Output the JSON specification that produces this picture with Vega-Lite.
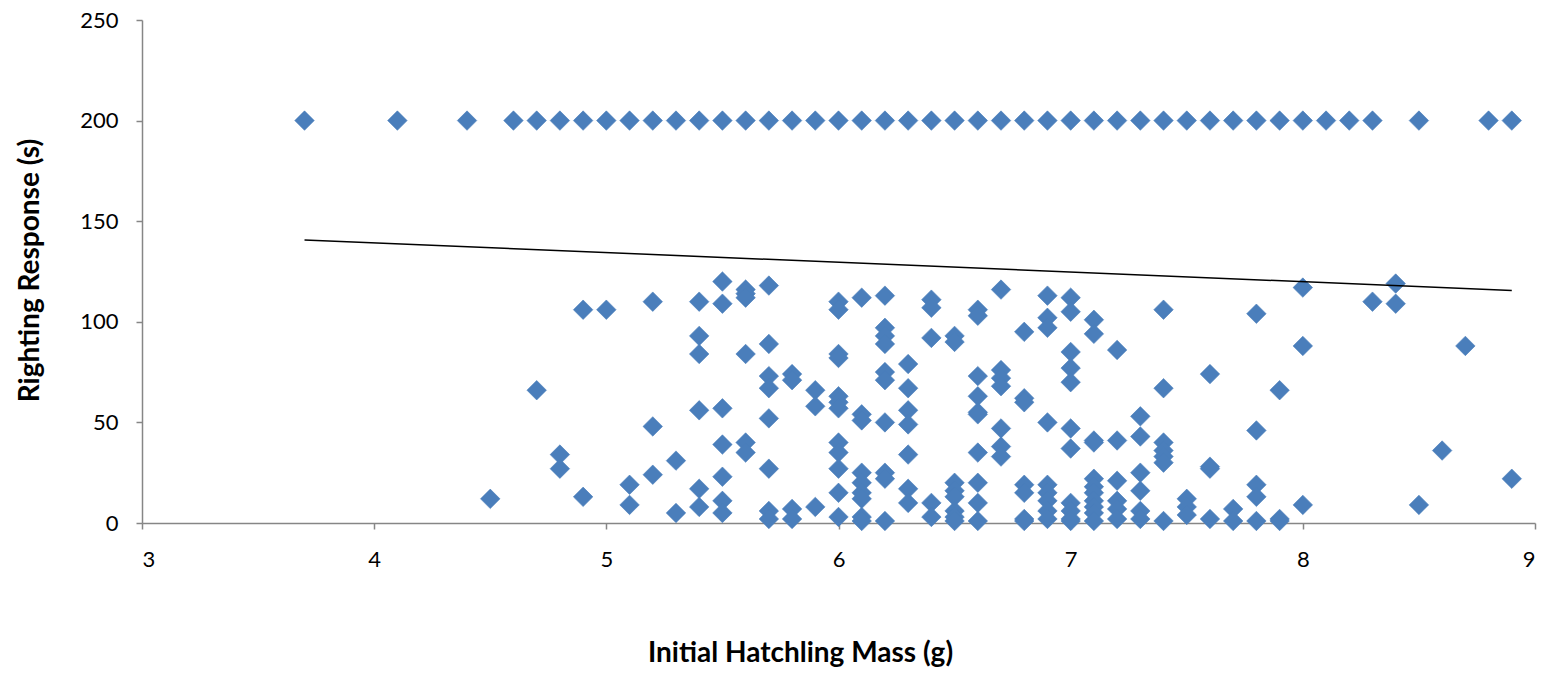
{
  "$schema": "https://vega.github.io/schema/vega-lite/v6.json",
  "autosize": "none",
  "padding": {"left": 142, "top": 20, "right": 14, "bottom": 150},
  "width": 1393,
  "height": 503,
  "background": "white",
  "config": {
    "view": {"stroke": null},
    "axis": {
      "grid": false,
      "domainColor": "#868686",
      "domainWidth": 1.5,
      "tickColor": "#868686",
      "tickWidth": 1.5,
      "tickSize": 6,
      "labelFont": "Lato",
      "labelFontSize": 22,
      "labelColor": "#000000",
      "titleFont": "Lato",
      "titleFontSize": 28,
      "titleFontWeight": "bold",
      "titleColor": "#000000"
    }
  },
  "datasets": {
    "hatchlings": [
      {"mass": 3.7, "righting": 200}, {"mass": 4.1, "righting": 200}, {"mass": 4.4, "righting": 200},
      {"mass": 4.6, "righting": 200}, {"mass": 4.7, "righting": 200}, {"mass": 4.8, "righting": 200},
      {"mass": 4.9, "righting": 200}, {"mass": 5.0, "righting": 200}, {"mass": 5.1, "righting": 200},
      {"mass": 5.2, "righting": 200}, {"mass": 5.3, "righting": 200}, {"mass": 5.4, "righting": 200},
      {"mass": 5.5, "righting": 200}, {"mass": 5.6, "righting": 200}, {"mass": 5.7, "righting": 200},
      {"mass": 5.8, "righting": 200}, {"mass": 5.9, "righting": 200}, {"mass": 6.0, "righting": 200},
      {"mass": 6.1, "righting": 200}, {"mass": 6.2, "righting": 200}, {"mass": 6.3, "righting": 200},
      {"mass": 6.4, "righting": 200}, {"mass": 6.5, "righting": 200}, {"mass": 6.6, "righting": 200},
      {"mass": 6.7, "righting": 200}, {"mass": 6.8, "righting": 200}, {"mass": 6.9, "righting": 200},
      {"mass": 7.0, "righting": 200}, {"mass": 7.1, "righting": 200}, {"mass": 7.2, "righting": 200},
      {"mass": 7.3, "righting": 200}, {"mass": 7.4, "righting": 200}, {"mass": 7.5, "righting": 200},
      {"mass": 7.6, "righting": 200}, {"mass": 7.7, "righting": 200}, {"mass": 7.8, "righting": 200},
      {"mass": 7.9, "righting": 200}, {"mass": 8.0, "righting": 200}, {"mass": 8.1, "righting": 200},
      {"mass": 8.2, "righting": 200}, {"mass": 8.3, "righting": 200}, {"mass": 8.5, "righting": 200},
      {"mass": 8.8, "righting": 200}, {"mass": 8.9, "righting": 200},

      {"mass": 4.5, "righting": 12},
      {"mass": 4.7, "righting": 66},
      {"mass": 4.8, "righting": 34}, {"mass": 4.8, "righting": 27},
      {"mass": 4.9, "righting": 106}, {"mass": 4.9, "righting": 13},
      {"mass": 5.0, "righting": 106},
      {"mass": 5.1, "righting": 19}, {"mass": 5.1, "righting": 9},
      {"mass": 5.2, "righting": 110}, {"mass": 5.2, "righting": 48}, {"mass": 5.2, "righting": 24},
      {"mass": 5.3, "righting": 31}, {"mass": 5.3, "righting": 5},
      {"mass": 5.4, "righting": 110}, {"mass": 5.4, "righting": 93}, {"mass": 5.4, "righting": 84},
      {"mass": 5.4, "righting": 56}, {"mass": 5.4, "righting": 17}, {"mass": 5.4, "righting": 8},
      {"mass": 5.5, "righting": 120}, {"mass": 5.5, "righting": 109}, {"mass": 5.5, "righting": 57},
      {"mass": 5.5, "righting": 39}, {"mass": 5.5, "righting": 23}, {"mass": 5.5, "righting": 11},
      {"mass": 5.5, "righting": 5},
      {"mass": 5.6, "righting": 116}, {"mass": 5.6, "righting": 114}, {"mass": 5.6, "righting": 112},
      {"mass": 5.6, "righting": 84}, {"mass": 5.6, "righting": 40}, {"mass": 5.6, "righting": 35},
      {"mass": 5.7, "righting": 118}, {"mass": 5.7, "righting": 89}, {"mass": 5.7, "righting": 73},
      {"mass": 5.7, "righting": 67}, {"mass": 5.7, "righting": 52}, {"mass": 5.7, "righting": 27},
      {"mass": 5.7, "righting": 6}, {"mass": 5.7, "righting": 2},
      {"mass": 5.8, "righting": 74}, {"mass": 5.8, "righting": 71}, {"mass": 5.8, "righting": 7},
      {"mass": 5.8, "righting": 2},
      {"mass": 5.9, "righting": 66}, {"mass": 5.9, "righting": 58}, {"mass": 5.9, "righting": 8},
      {"mass": 6.0, "righting": 110}, {"mass": 6.0, "righting": 106}, {"mass": 6.0, "righting": 84},
      {"mass": 6.0, "righting": 82}, {"mass": 6.0, "righting": 63}, {"mass": 6.0, "righting": 60},
      {"mass": 6.0, "righting": 57}, {"mass": 6.0, "righting": 40}, {"mass": 6.0, "righting": 35},
      {"mass": 6.0, "righting": 27}, {"mass": 6.0, "righting": 15}, {"mass": 6.0, "righting": 3},
      {"mass": 6.1, "righting": 112}, {"mass": 6.1, "righting": 54}, {"mass": 6.1, "righting": 51},
      {"mass": 6.1, "righting": 25}, {"mass": 6.1, "righting": 20}, {"mass": 6.1, "righting": 15},
      {"mass": 6.1, "righting": 12}, {"mass": 6.1, "righting": 3}, {"mass": 6.1, "righting": 1},
      {"mass": 6.2, "righting": 113}, {"mass": 6.2, "righting": 97}, {"mass": 6.2, "righting": 93},
      {"mass": 6.2, "righting": 89}, {"mass": 6.2, "righting": 75}, {"mass": 6.2, "righting": 71},
      {"mass": 6.2, "righting": 50}, {"mass": 6.2, "righting": 25}, {"mass": 6.2, "righting": 22},
      {"mass": 6.2, "righting": 1},
      {"mass": 6.3, "righting": 79}, {"mass": 6.3, "righting": 67}, {"mass": 6.3, "righting": 56},
      {"mass": 6.3, "righting": 49}, {"mass": 6.3, "righting": 34}, {"mass": 6.3, "righting": 17},
      {"mass": 6.3, "righting": 10},
      {"mass": 6.4, "righting": 111}, {"mass": 6.4, "righting": 107}, {"mass": 6.4, "righting": 92},
      {"mass": 6.4, "righting": 10}, {"mass": 6.4, "righting": 3},
      {"mass": 6.5, "righting": 93}, {"mass": 6.5, "righting": 90}, {"mass": 6.5, "righting": 20},
      {"mass": 6.5, "righting": 16}, {"mass": 6.5, "righting": 13}, {"mass": 6.5, "righting": 6},
      {"mass": 6.5, "righting": 3}, {"mass": 6.5, "righting": 1},
      {"mass": 6.6, "righting": 106}, {"mass": 6.6, "righting": 103}, {"mass": 6.6, "righting": 73},
      {"mass": 6.6, "righting": 63}, {"mass": 6.6, "righting": 55}, {"mass": 6.6, "righting": 54},
      {"mass": 6.6, "righting": 35}, {"mass": 6.6, "righting": 20}, {"mass": 6.6, "righting": 10},
      {"mass": 6.6, "righting": 1},
      {"mass": 6.7, "righting": 116}, {"mass": 6.7, "righting": 76}, {"mass": 6.7, "righting": 72},
      {"mass": 6.7, "righting": 68}, {"mass": 6.7, "righting": 47}, {"mass": 6.7, "righting": 38},
      {"mass": 6.7, "righting": 33},
      {"mass": 6.8, "righting": 95}, {"mass": 6.8, "righting": 62}, {"mass": 6.8, "righting": 60},
      {"mass": 6.8, "righting": 19}, {"mass": 6.8, "righting": 15}, {"mass": 6.8, "righting": 2},
      {"mass": 6.8, "righting": 1},
      {"mass": 6.9, "righting": 113}, {"mass": 6.9, "righting": 102}, {"mass": 6.9, "righting": 97},
      {"mass": 6.9, "righting": 50}, {"mass": 6.9, "righting": 19}, {"mass": 6.9, "righting": 15},
      {"mass": 6.9, "righting": 11}, {"mass": 6.9, "righting": 6}, {"mass": 6.9, "righting": 2},
      {"mass": 7.0, "righting": 112}, {"mass": 7.0, "righting": 105}, {"mass": 7.0, "righting": 85},
      {"mass": 7.0, "righting": 77}, {"mass": 7.0, "righting": 70}, {"mass": 7.0, "righting": 47},
      {"mass": 7.0, "righting": 37}, {"mass": 7.0, "righting": 10}, {"mass": 7.0, "righting": 6},
      {"mass": 7.0, "righting": 2}, {"mass": 7.0, "righting": 1},
      {"mass": 7.1, "righting": 101}, {"mass": 7.1, "righting": 94}, {"mass": 7.1, "righting": 41},
      {"mass": 7.1, "righting": 40}, {"mass": 7.1, "righting": 22}, {"mass": 7.1, "righting": 18},
      {"mass": 7.1, "righting": 15}, {"mass": 7.1, "righting": 11}, {"mass": 7.1, "righting": 8},
      {"mass": 7.1, "righting": 5}, {"mass": 7.1, "righting": 1},
      {"mass": 7.2, "righting": 86}, {"mass": 7.2, "righting": 41}, {"mass": 7.2, "righting": 21},
      {"mass": 7.2, "righting": 11}, {"mass": 7.2, "righting": 7}, {"mass": 7.2, "righting": 2},
      {"mass": 7.3, "righting": 53}, {"mass": 7.3, "righting": 43}, {"mass": 7.3, "righting": 25},
      {"mass": 7.3, "righting": 16}, {"mass": 7.3, "righting": 6}, {"mass": 7.3, "righting": 2},
      {"mass": 7.4, "righting": 106}, {"mass": 7.4, "righting": 67}, {"mass": 7.4, "righting": 40},
      {"mass": 7.4, "righting": 36}, {"mass": 7.4, "righting": 33}, {"mass": 7.4, "righting": 30},
      {"mass": 7.4, "righting": 1},
      {"mass": 7.5, "righting": 12}, {"mass": 7.5, "righting": 8}, {"mass": 7.5, "righting": 4},
      {"mass": 7.6, "righting": 74}, {"mass": 7.6, "righting": 28}, {"mass": 7.6, "righting": 27},
      {"mass": 7.6, "righting": 2},
      {"mass": 7.7, "righting": 7}, {"mass": 7.7, "righting": 1},
      {"mass": 7.8, "righting": 104}, {"mass": 7.8, "righting": 46}, {"mass": 7.8, "righting": 19},
      {"mass": 7.8, "righting": 13}, {"mass": 7.8, "righting": 1},
      {"mass": 7.9, "righting": 66}, {"mass": 7.9, "righting": 2}, {"mass": 7.9, "righting": 1},
      {"mass": 8.0, "righting": 117}, {"mass": 8.0, "righting": 88}, {"mass": 8.0, "righting": 9},
      {"mass": 8.3, "righting": 110},
      {"mass": 8.4, "righting": 119}, {"mass": 8.4, "righting": 109},
      {"mass": 8.5, "righting": 9},
      {"mass": 8.6, "righting": 36},
      {"mass": 8.7, "righting": 88},
      {"mass": 8.9, "righting": 22}
    ],
    "trend": [
      {"mass": 3.7, "righting": 140.7},
      {"mass": 8.9, "righting": 115.6}
    ]
  },
  "layer": [
    {
      "data": {"name": "hatchlings"},
      "mark": {"type": "point", "shape": "diamond", "filled": true, "size": 380, "color": "#4a7ebb", "opacity": 1, "stroke": "#4a7ebb", "strokeWidth": 0.6},
      "encoding": {
        "x": {
          "field": "mass", "type": "quantitative",
          "scale": {"domain": [3, 9], "nice": false, "zero": false},
          "axis": {
            "title": "Initial Hatchling Mass (g)",
            "values": [3, 4, 5, 6, 7, 8, 9],
            "format": "d",
            "labelPadding": 20,
            "titleX": 658, "titleY": 130,
            "titleBaseline": "middle", "titleAlign": "center"
          }
        },
        "y": {
          "field": "righting", "type": "quantitative",
          "scale": {"domain": [0, 250], "nice": false},
          "axis": {
            "title": "Righting Response (s)",
            "values": [0, 50, 100, 150, 200, 250],
            "format": "d",
            "labelPadding": 18,
            "titleAngle": -90,
            "titleX": -112, "titleY": 250,
            "titleBaseline": "middle", "titleAlign": "center"
          }
        }
      }
    },
    {
      "data": {"name": "trend"},
      "mark": {"type": "line", "color": "#000000", "strokeWidth": 1.5},
      "encoding": {
        "x": {"field": "mass", "type": "quantitative"},
        "y": {"field": "righting", "type": "quantitative"}
      }
    }
  ]
}
